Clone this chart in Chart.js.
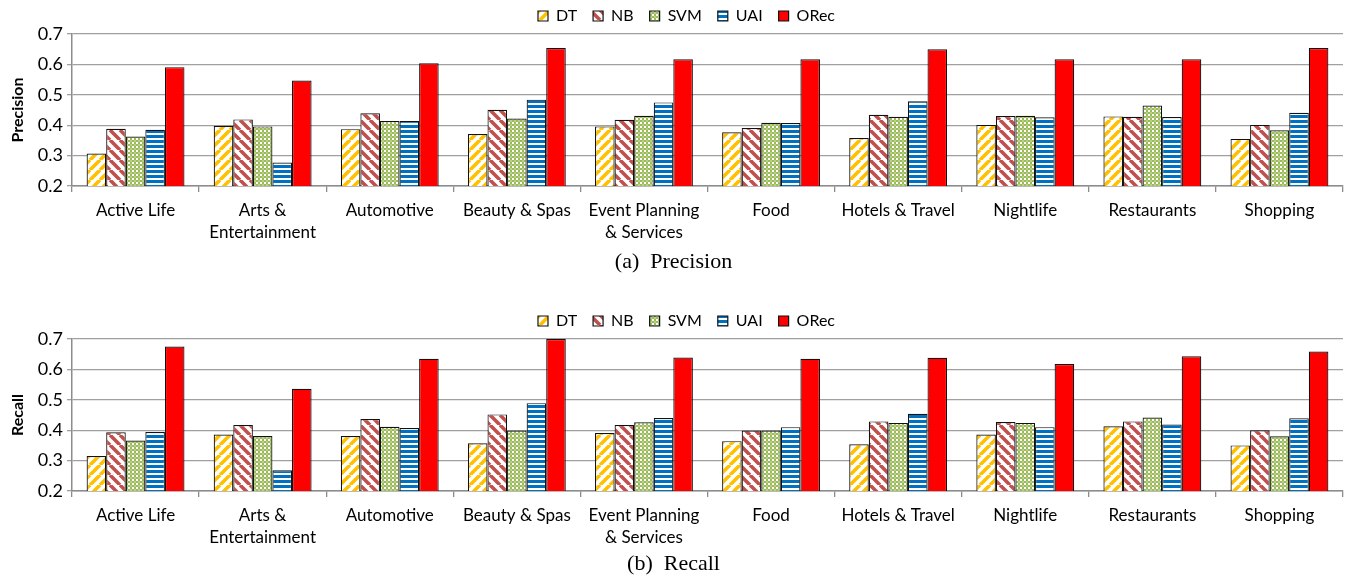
<!DOCTYPE html>
<html>
<head>
<meta charset="utf-8">
<script src="https://cdn.jsdelivr.net/npm/chart.js@4"></script>
<style>
  body { margin: 0; background: #fff; width: 1347px; height: 580px; position: relative; overflow: hidden; }
  .box { position: absolute; left: 0; width: 1347px; height: 250px; }
  .caption { position: absolute; left: 0; width: 1347px; text-align: center;
             font-family: "Liberation Serif", "Times New Roman", serif; font-size: 22px; color: #000; }
</style>
</head>
<body>
<div class="box" style="top:0"><canvas id="precision"></canvas></div>
<div class="caption" style="top:248px">(a)&nbsp; Precision</div>
<div class="box" style="top:305px"><canvas id="recall"></canvas></div>
<div class="caption" style="top:550px">(b)&nbsp; Recall</div>
<script>
// categorias (eixo x)
const categorias = ['Active Life', ['Arts &', 'Entertainment'], 'Automotive', 'Beauty & Spas',
  ['Event Planning', '& Services'], 'Food', 'Hotels & Travel', 'Nightlife', 'Restaurants', 'Shopping'];
const metodos = ['DT', 'NB', 'SVM', 'UAI', 'ORec'];
const ticksY = [0.2, 0.3, 0.4, 0.5, 0.6, 0.7];

// valores (a) Precision
const precDT   = [0.307, 0.398, 0.387, 0.371, 0.396, 0.377, 0.358, 0.401, 0.429, 0.355];
const precNB   = [0.388, 0.419, 0.439, 0.451, 0.418, 0.391, 0.434, 0.430, 0.428, 0.401];
const precSVM  = [0.363, 0.396, 0.414, 0.422, 0.431, 0.408, 0.428, 0.431, 0.465, 0.383];
const precUAI  = [0.385, 0.277, 0.414, 0.484, 0.475, 0.407, 0.479, 0.426, 0.427, 0.441];
const precORec = [0.591, 0.547, 0.604, 0.654, 0.617, 0.617, 0.650, 0.617, 0.617, 0.654];

// valores (b) Recall
const recDT   = [0.315, 0.386, 0.381, 0.357, 0.391, 0.364, 0.354, 0.386, 0.413, 0.350];
const recNB   = [0.393, 0.417, 0.437, 0.452, 0.417, 0.399, 0.429, 0.427, 0.429, 0.400];
const recSVM  = [0.366, 0.381, 0.411, 0.399, 0.426, 0.399, 0.424, 0.424, 0.442, 0.380];
const recUAI  = [0.394, 0.268, 0.407, 0.489, 0.440, 0.410, 0.454, 0.410, 0.419, 0.439];
const recORec = [0.675, 0.536, 0.635, 0.700, 0.639, 0.635, 0.638, 0.618, 0.643, 0.659];

const fonte = 'Lato, "Liberation Sans", sans-serif';

// Cria um padrão de preenchimento numa tela auxiliar
function criarPadrao(w, h, desenhar) {
  const c = document.createElement('canvas');
  c.width = w; c.height = h;
  const g = c.getContext('2d');
  g.fillStyle = '#fff';
  g.fillRect(0, 0, w, h);
  desenhar(g, w, h);
  return g.createPattern(c, 'repeat');
}

function listras(cor, sentido) {
  return criarPadrao(10, 10, (g, s) => {
    g.strokeStyle = cor;
    g.lineWidth = 3.6;
    g.beginPath();
    for (let k = -1; k <= 1; k++) {
      if (sentido === '/') { g.moveTo(k * s, s); g.lineTo(k * s + s, 0); }
      else { g.moveTo(k * s, 0); g.lineTo(k * s + s, s); }
    }
    g.stroke();
  });
}

const padraoDT = listras('#FFC000', '/');
const padraoNB = listras('#C0504D', '\\');
const padraoSVM = criarPadrao(4, 4, (g) => {
  g.fillStyle = '#9BBB59';
  g.fillRect(0, 0, 2, 2);
  g.fillRect(2, 2, 2, 2);
  g.fillStyle = '#b9d08a';
  g.fillRect(2, 0, 2, 2);
});
const padraoUAI = criarPadrao(5, 5, (g) => {
  g.fillStyle = '#0070C0';
  g.fillRect(0, 0, 5, 3);
});
const cores = [padraoDT, padraoNB, padraoSVM, padraoUAI, '#FF0000'];

// Ajusta a altura da legenda e desloca os itens para posicionar a área do gráfico
const legendaFixa = {
  id: 'legendaFixa',
  beforeInit(chart) {
    const fitOriginal = chart.legend.fit;
    chart.legend.fit = function () {
      fitOriginal.bind(chart.legend)();
      this.height = 34;
    };
  },
  afterLayout(chart) {
    chart.legend.top -= 8;
    chart.legend.left += 15;
    chart.legend.right += 15;
  }
};

function criarGrafico(id, tituloY, series) {
  const ctx = document.getElementById(id).getContext('2d');
  return new Chart(ctx, {
    type: 'bar',
    data: {
      labels: categorias,
      datasets: series.map((valores, i) => ({
        label: metodos[i],
        data: valores,
        backgroundColor: cores[i],
        borderColor: '#111',
        borderWidth: 1.2,
        categoryPercentage: 0.77,
        barPercentage: 1.0
      }))
    },
    options: {
      responsive: true,
      maintainAspectRatio: false,
      animation: false,
      layout: { padding: { left: 0, right: 4, top: 0, bottom: 0 } },
      plugins: {
        tooltip: { enabled: false },
        legend: {
          position: 'top',
          labels: {
            boxWidth: 10,
            boxHeight: 10,
            padding: 16,
            color: '#000',
            font: { family: fonte, size: 16 }
          }
        }
      },
      scales: {
        x: {
          offset: true,
          grid: { display: true, offset: true, drawOnChartArea: false, drawTicks: true,
                  tickLength: 6, color: '#8c8c8c', lineWidth: 1.3 },
          border: { color: '#8c8c8c', width: 1.5 },
          ticks: { color: '#000', font: { family: fonte, size: 17, lineHeight: 1.3 },
                   maxRotation: 0, autoSkip: false, padding: 7 },
          afterFit(scale) { scale.height = 64; }
        },
        y: {
          min: ticksY[0],
          max: ticksY[ticksY.length - 1],
          afterBuildTicks(scale) { scale.ticks = ticksY.map(v => ({ value: v })); },
          grid: { color: '#a0a0a0', lineWidth: 1.3, drawTicks: true, tickLength: 5 },
          border: { color: '#8c8c8c', width: 1.5 },
          ticks: { color: '#000', font: { family: fonte, size: 18 }, padding: 4,
                   callback: v => v.toFixed(1) },
          title: { display: true, text: tituloY, color: '#000', padding: { top: 8, bottom: 0 },
                   font: { family: fonte, size: 16, weight: 'bold' } },
          afterFit(scale) { scale.width = 72; }
        }
      }
    },
    plugins: [legendaFixa]
  });
}

criarGrafico('precision', 'Precision', [precDT, precNB, precSVM, precUAI, precORec]);
criarGrafico('recall', 'Recall', [recDT, recNB, recSVM, recUAI, recORec]);
</script>
</body>
</html>
